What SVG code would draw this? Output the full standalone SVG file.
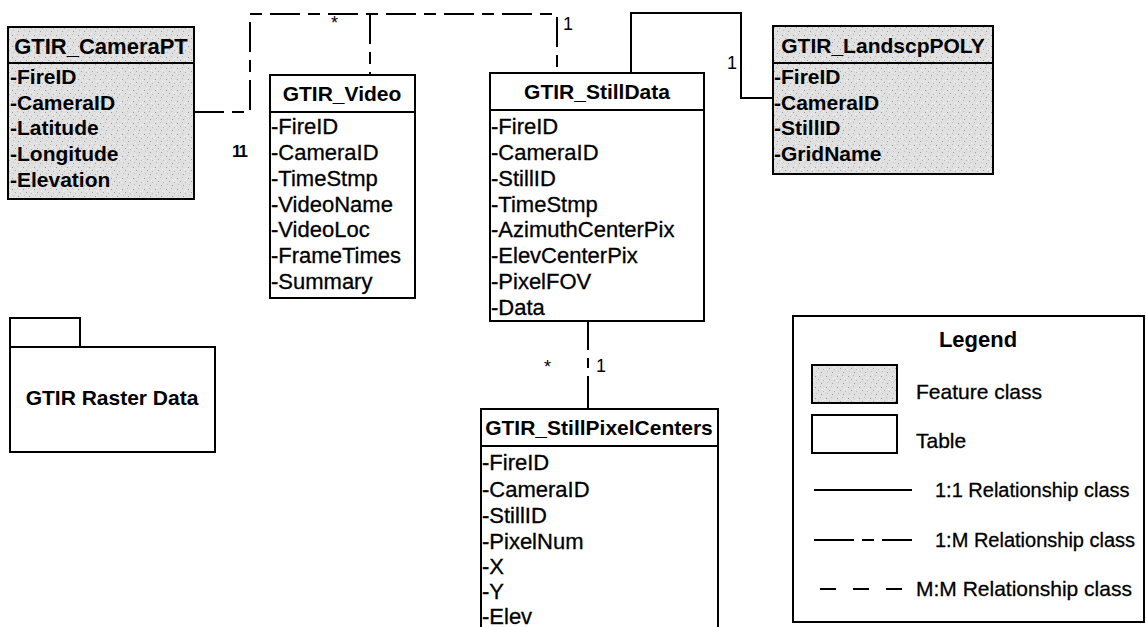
<svg xmlns="http://www.w3.org/2000/svg" width="1146" height="627" viewBox="0 0 1146 627">
<defs>
<pattern id="stip" width="11" height="11" patternUnits="userSpaceOnUse">
<rect width="11" height="11" fill="#e0e0e0"/>
<rect x="1" y="2" width="1" height="1" fill="#9a9a9a"/>
<rect x="6" y="1" width="1" height="1" fill="#bdbdbd"/>
<rect x="4" y="5" width="1" height="1" fill="#a5a5a5"/>
<rect x="9" y="6" width="1" height="1" fill="#b5b5b5"/>
<rect x="2" y="8" width="1" height="1" fill="#c0c0c0"/>
<rect x="7" y="9" width="1" height="1" fill="#9f9f9f"/>
<rect x="10" y="3" width="1" height="1" fill="#f4f4f4"/>
<rect x="3" y="0" width="1" height="1" fill="#f2f2f2"/>
<rect x="8" y="4" width="1" height="1" fill="#f6f6f6"/>
<rect x="0" y="6" width="1" height="1" fill="#f0f0f0"/>
</pattern>
</defs>
<style>
.box{stroke:#000;stroke-width:2;}
.feat{fill:url(#stip);}
.tab{fill:#fff;}
.ln{stroke:#000;stroke-width:2;fill:none;}
.ttl{font-family:"Liberation Sans",Arial,sans-serif;font-weight:bold;font-size:21px;text-anchor:middle;fill:#000;}
.fr{font-family:"Liberation Sans",Arial,sans-serif;font-weight:bold;font-size:21px;fill:#000;}
.tr{font-family:"Liberation Sans",Arial,sans-serif;font-size:22px;fill:#000;stroke:#000;stroke-width:0.3;}
.lg{font-family:"Liberation Sans",Arial,sans-serif;font-size:21px;fill:#000;stroke:#000;stroke-width:0.3;}
.lg20{font-size:20px;}
.lbl{font-family:"Liberation Sans",Arial,sans-serif;font-size:18px;fill:#000;}
.onem{stroke-dasharray:30 8 12 8;}
.mm{stroke-dasharray:16 17;}
</style>
<rect width="1146" height="627" fill="#fff"/>

<g id="connectors">
<path class="ln onem" d="M194,112 H250 V14 H557 V73"/>
<path class="ln onem" d="M370,14 V75"/>
<path class="ln" d="M631,73 V13 H741 V98 H773"/>
<path class="ln" d="M588,321 V409" stroke-dasharray="29 8 10 8 40"/>
<text class="lbl" x="331" y="29">*</text>
<text class="lbl" x="563" y="30">1</text>
<text class="lbl" x="232" y="157" font-weight="bold" style="font-size:17px" letter-spacing="-2">11</text>
<text class="lbl" x="727" y="69">1</text>
<text class="lbl" x="544" y="373">*</text>
<text class="lbl" x="596" y="372">1</text>
</g>

<g id="GTIR_CameraPT">
<rect class="box feat" x="8" y="27" width="186" height="172"/>
<line class="ln" x1="8" y1="63" x2="194" y2="63"/>
<text class="ttl" x="101" y="54" style="font-size:22px">GTIR_CameraPT</text>
<text class="fr" x="10" y="84">-FireID</text>
<text class="fr" x="10" y="110">-CameraID</text>
<text class="fr" x="10" y="135">-Latitude</text>
<text class="fr" x="10" y="161">-Longitude</text>
<text class="fr" x="10" y="187">-Elevation</text>
</g>

<g id="GTIR_Video">
<rect class="box tab" x="270" y="75" width="145" height="223"/>
<line class="ln" x1="270" y1="112" x2="415" y2="112"/>
<text class="ttl" x="342" y="101">GTIR_Video</text>
<text class="tr" x="271" y="134">-FireID</text>
<text class="tr" x="271" y="160">-CameraID</text>
<text class="tr" x="271" y="186">-TimeStmp</text>
<text class="tr" x="271" y="212">-VideoName</text>
<text class="tr" x="271" y="237">-VideoLoc</text>
<text class="tr" x="271" y="263">-FrameTimes</text>
<text class="tr" x="271" y="289">-Summary</text>
</g>

<g id="GTIR_StillData">
<rect class="box tab" x="490" y="73" width="214" height="248"/>
<line class="ln" x1="490" y1="110" x2="704" y2="110"/>
<text class="ttl" x="597" y="99">GTIR_StillData</text>
<text class="tr" x="491" y="134">-FireID</text>
<text class="tr" x="491" y="160">-CameraID</text>
<text class="tr" x="491" y="186">-StillID</text>
<text class="tr" x="491" y="212">-TimeStmp</text>
<text class="tr" x="491" y="237">-AzimuthCenterPix</text>
<text class="tr" x="491" y="263">-ElevCenterPix</text>
<text class="tr" x="491" y="289">-PixelFOV</text>
<text class="tr" x="491" y="315">-Data</text>
</g>

<g id="GTIR_LandscpPOLY">
<rect class="box feat" x="773" y="26" width="220" height="148"/>
<line class="ln" x1="773" y1="63" x2="993" y2="63"/>
<text class="ttl" x="883" y="53">GTIR_LandscpPOLY</text>
<text class="fr" x="774" y="84">-FireID</text>
<text class="fr" x="774" y="110">-CameraID</text>
<text class="fr" x="774" y="135">-StillID</text>
<text class="fr" x="774" y="161">-GridName</text>
</g>

<g id="GTIR_Raster_Data">
<rect class="box tab" x="10" y="318" width="70" height="29"/>
<rect class="box tab" x="10" y="347" width="205" height="105"/>
<text class="ttl" x="112" y="405">GTIR Raster Data</text>
</g>

<g id="GTIR_StillPixelCenters">
<rect class="box tab" x="481" y="409" width="237" height="240"/>
<line class="ln" x1="481" y1="446" x2="718" y2="446"/>
<text class="ttl" x="599" y="435">GTIR_StillPixelCenters</text>
<text class="tr" x="482" y="470">-FireID</text>
<text class="tr" x="482" y="497">-CameraID</text>
<text class="tr" x="482" y="523">-StillID</text>
<text class="tr" x="482" y="549">-PixelNum</text>
<text class="tr" x="482" y="574">-X</text>
<text class="tr" x="482" y="599">-Y</text>
<text class="tr" x="482" y="624">-Elev</text>
</g>

<g id="legend">
<rect class="box tab" x="793" y="316" width="351" height="306"/>
<text class="ttl" x="978" y="347" style="font-size:22px">Legend</text>
<rect class="box feat" x="812" y="365" width="85" height="38"/>
<text class="lg" x="916" y="399">Feature class</text>
<rect class="box tab" x="812" y="415" width="85" height="38"/>
<text class="lg" x="916" y="448">Table</text>
<line class="ln" x1="814" y1="490" x2="912" y2="490"/>
<text class="lg lg20" x="935" y="497">1:1 Relationship class</text>
<line class="ln" x1="814" y1="540" x2="912" y2="540" stroke-dasharray="40 8 12 8 40"/>
<text class="lg lg20" x="935" y="547">1:M Relationship class</text>
<line class="ln mm" x1="820" y1="589" x2="902" y2="589"/>
<text class="lg" x="916" y="596">M:M Relationship class</text>
</g>
</svg>
